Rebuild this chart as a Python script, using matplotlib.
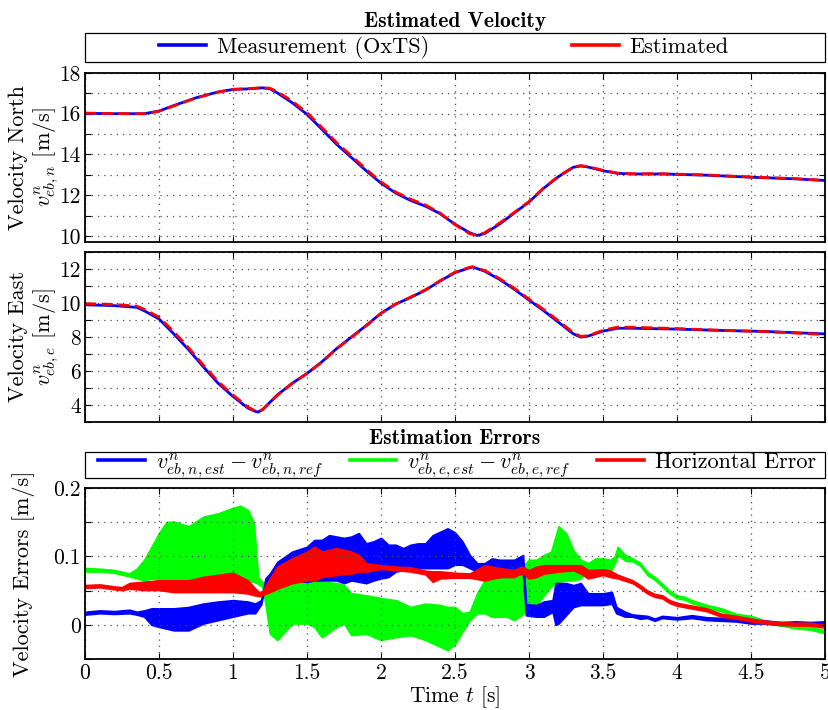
import numpy as np
import matplotlib
matplotlib.use("Agg")
import matplotlib.pyplot as plt
from matplotlib.lines import Line2D
from matplotlib.patches import Rectangle

plt.rcParams.update({
    "font.family": "serif",
    "font.serif": ["cmr10"],
    "mathtext.fontset": "cm",
    "axes.formatter.use_mathtext": True,
    "font.size": 15,
})

# ---- velocity north / east (measured and estimated) ----
t_vel = [0.0, 0.2, 0.4, 0.5, 0.6, 0.75, 0.9, 1.0, 1.1, 1.2, 1.25, 1.3, 1.4, 1.5,
         1.6, 1.7, 1.8, 1.9, 2.0, 2.1, 2.2, 2.3, 2.4, 2.5, 2.6, 2.65, 2.7, 2.8,
         2.9, 3.0, 3.1, 3.2, 3.3, 3.35, 3.4, 3.5, 3.6, 3.7, 3.9, 4.0, 4.2, 4.5,
         4.8, 5.0]
vn_meas = [16.02, 16.0, 16.0, 16.13, 16.4, 16.78, 17.07, 17.19, 17.22, 17.27,
           17.22, 17.02, 16.54, 15.97, 15.24, 14.5, 13.85, 13.2, 12.59, 12.1,
           11.74, 11.46, 11.09, 10.57, 10.15, 10.02, 10.11, 10.57, 11.12, 11.66,
           12.34, 12.91, 13.37, 13.43, 13.38, 13.2, 13.07, 13.04, 13.04, 13.02,
           12.98, 12.88, 12.8, 12.72]
vn_est = [16.03, 16.01, 16.0, 16.12, 16.38, 16.77, 17.06, 17.2, 17.23, 17.28,
          17.25, 17.08, 16.62, 16.05, 15.33, 14.58, 13.93, 13.27, 12.65, 12.15,
          11.8, 11.52, 11.12, 10.55, 10.1, 10.03, 10.15, 10.62, 11.15, 11.68,
          12.36, 12.93, 13.38, 13.45, 13.4, 13.22, 13.08, 13.05, 13.05, 13.03,
          12.99, 12.89, 12.81, 12.72]

t_ve = [0.0, 0.2, 0.35, 0.4, 0.5, 0.6, 0.7, 0.8, 0.9, 1.0, 1.1, 1.15, 1.17, 1.2,
        1.3, 1.4, 1.5, 1.6, 1.7, 1.8, 1.9, 2.0, 2.1, 2.2, 2.3, 2.4, 2.5, 2.6,
        2.62, 2.7, 2.8, 2.9, 3.0, 3.1, 3.2, 3.3, 3.35, 3.4, 3.5, 3.6, 3.7, 4.0,
        4.3, 4.6, 5.0]
ve_meas = [9.88, 9.83, 9.73, 9.53, 9.05, 8.17, 7.24, 6.23, 5.26, 4.49, 3.81,
           3.61, 3.57, 3.71, 4.58, 5.26, 5.84, 6.52, 7.3, 7.98, 8.66, 9.38, 9.92,
           10.31, 10.74, 11.28, 11.77, 12.06, 12.1, 11.86, 11.38, 10.8, 10.16,
           9.53, 8.85, 8.17, 7.98, 8.04, 8.33, 8.5, 8.5, 8.45, 8.37, 8.31, 8.17]
ve_est = [9.95, 9.9, 9.8, 9.62, 9.15, 8.3, 7.35, 6.33, 5.36, 4.57, 3.87, 3.64,
          3.6, 3.72, 4.55, 5.25, 5.83, 6.5, 7.28, 7.96, 8.64, 9.37, 9.93, 10.33,
          10.76, 11.3, 11.8, 12.09, 12.12, 11.9, 11.43, 10.86, 10.22, 9.6, 8.93,
          8.24, 8.02, 8.06, 8.38, 8.57, 8.56, 8.48, 8.38, 8.3, 8.13]

# ---- estimation errors, lower / upper envelope of each trace ----
t_err_n = [0.0, 0.1, 0.2, 0.3, 0.35, 0.4, 0.45, 0.5, 0.6, 0.7, 0.8, 0.9, 1.0,
           1.1, 1.15, 1.19, 1.22, 1.25, 1.3, 1.4, 1.5, 1.55, 1.6, 1.65, 1.7,
           1.75, 1.8, 1.85, 1.9, 1.95, 2.0, 2.05, 2.1, 2.15, 2.2, 2.25, 2.3,
           2.35, 2.4, 2.45, 2.5, 2.55, 2.6, 2.65, 2.7, 2.75, 2.8, 2.9, 2.96,
           2.98, 3.05, 3.1, 3.16, 3.18, 3.2, 3.25, 3.3, 3.35, 3.4, 3.5, 3.56,
           3.59, 3.65, 3.7, 3.75, 3.8, 3.85, 3.9, 4.0, 4.1, 4.2, 4.3, 4.4, 4.5,
           4.6, 4.7, 4.8, 4.9, 5.0]
err_n_lo = [0.015, 0.017, 0.016, 0.017, 0.015, 0.012, 0.0, -0.003, -0.008,
            -0.008, 0.002, 0.007, 0.012, 0.017, 0.017, 0.030, 0.060, 0.065,
            0.065, 0.065, 0.063, 0.065, 0.065, 0.065, 0.065, 0.061, 0.065,
            0.063, 0.061, 0.065, 0.068, 0.070, 0.078, 0.080, 0.080, 0.083,
            0.083, 0.083, 0.083, 0.083, 0.088, 0.088, 0.083, 0.078, 0.068,
            0.070, 0.070, 0.073, 0.075, 0.014, 0.012, 0.012, 0.019, 0.0, 0.002,
            0.014, 0.026, 0.029, 0.029, 0.029, 0.031, 0.017, 0.012, 0.012,
            0.009, 0.010, 0.006, 0.010, 0.008, 0.010, 0.007, 0.006, 0.005,
            0.002, 0.002, 0.0, 0.001, 0.0, 0.001]
err_n_hi = [0.019, 0.021, 0.020, 0.022, 0.019, 0.021, 0.024, 0.024, 0.024,
            0.026, 0.031, 0.034, 0.036, 0.034, 0.031, 0.036, 0.068, 0.075,
            0.092, 0.107, 0.114, 0.124, 0.124, 0.131, 0.129, 0.127, 0.129,
            0.134, 0.119, 0.122, 0.127, 0.117, 0.117, 0.112, 0.117, 0.119,
            0.119, 0.131, 0.136, 0.141, 0.135, 0.122, 0.102, 0.090, 0.090,
            0.097, 0.095, 0.095, 0.102, 0.030, 0.029, 0.034, 0.036, 0.061,
            0.061, 0.061, 0.058, 0.061, 0.046, 0.046, 0.048, 0.026, 0.019,
            0.015, 0.014, 0.013, 0.009, 0.013, 0.011, 0.014, 0.011, 0.010,
            0.009, 0.006, 0.006, 0.004, 0.005, 0.004, 0.005]

t_err_e = [0.0, 0.1, 0.2, 0.3, 0.35, 0.4, 0.45, 0.5, 0.55, 0.6, 0.7, 0.8, 0.9,
           1.0, 1.05, 1.1, 1.14, 1.17, 1.2, 1.22, 1.25, 1.3, 1.4, 1.5, 1.55,
           1.6, 1.7, 1.75, 1.8, 1.9, 2.0, 2.1, 2.2, 2.3, 2.4, 2.45, 2.5, 2.55,
           2.6, 2.65, 2.7, 2.75, 2.8, 2.85, 2.9, 2.95, 3.0, 3.05, 3.1, 3.15,
           3.2, 3.25, 3.3, 3.35, 3.4, 3.45, 3.5, 3.55, 3.58, 3.6, 3.65, 3.7,
           3.75, 3.8, 3.85, 3.9, 3.95, 4.0, 4.05, 4.1, 4.2, 4.3, 4.4, 4.5, 4.6,
           4.7, 4.8, 4.9, 5.0]
err_e_lo = [0.078, 0.078, 0.076, 0.071, 0.068, 0.065, 0.068, 0.066, 0.065,
            0.065, 0.065, 0.066, 0.068, 0.066, 0.065, 0.063, 0.063, 0.060,
            0.055, 0.030, -0.013, -0.022, 0.002, 0.002, -0.003, -0.018, -0.003,
            0.002, -0.015, -0.013, -0.022, -0.018, -0.015, -0.022, -0.032,
            -0.037, -0.028, -0.010, 0.007, 0.017, 0.017, 0.012, 0.012, 0.012,
            0.007, 0.014, 0.024, 0.029, 0.043, 0.056, 0.063, 0.065, 0.065,
            0.068, 0.080, 0.075, 0.075, 0.078, 0.090, 0.102, 0.094, 0.093,
            0.087, 0.073, 0.066, 0.056, 0.046, 0.039, 0.037, 0.032, 0.025,
            0.020, 0.012, 0.009, 0.002, -0.001, -0.005, -0.007, -0.012]
err_e_hi = [0.083, 0.082, 0.080, 0.075, 0.082, 0.095, 0.114, 0.134, 0.150,
            0.151, 0.144, 0.158, 0.163, 0.171, 0.174, 0.168, 0.150, 0.070,
            0.062, 0.062, 0.058, 0.061, 0.063, 0.065, 0.063, 0.063, 0.061,
            0.058, 0.046, 0.043, 0.039, 0.036, 0.026, 0.031, 0.029, 0.026,
            0.026, 0.017, 0.019, 0.046, 0.065, 0.068, 0.075, 0.078, 0.078,
            0.083, 0.095, 0.095, 0.102, 0.107, 0.144, 0.134, 0.109, 0.095,
            0.090, 0.097, 0.097, 0.095, 0.100, 0.114, 0.102, 0.097, 0.091,
            0.077, 0.070, 0.060, 0.050, 0.043, 0.041, 0.036, 0.029, 0.024,
            0.016, 0.013, 0.006, 0.003, -0.001, -0.003, -0.008]

t_err_h = [0.0, 0.1, 0.2, 0.25, 0.3, 0.4, 0.5, 0.6, 0.7, 0.8, 0.9, 1.0, 1.1,
           1.15, 1.18, 1.2, 1.25, 1.3, 1.4, 1.5, 1.55, 1.6, 1.7, 1.8, 1.85, 1.9,
           2.0, 2.1, 2.2, 2.3, 2.35, 2.4, 2.5, 2.6, 2.7, 2.8, 2.9, 2.95, 3.0,
           3.05, 3.1, 3.2, 3.3, 3.35, 3.4, 3.5, 3.55, 3.6, 3.7, 3.75, 3.8, 3.85,
           3.9, 3.95, 4.0, 4.1, 4.2, 4.3, 4.4, 4.5, 4.6, 4.7, 4.8, 4.9, 5.0]
err_h_lo = [0.054, 0.055, 0.052, 0.051, 0.053, 0.051, 0.051, 0.048, 0.048,
            0.048, 0.048, 0.048, 0.046, 0.043, 0.042, 0.044, 0.048, 0.053,
            0.061, 0.065, 0.065, 0.070, 0.073, 0.075, 0.078, 0.078, 0.082,
            0.080, 0.078, 0.074, 0.063, 0.068, 0.069, 0.069, 0.065, 0.070,
            0.070, 0.076, 0.068, 0.070, 0.075, 0.078, 0.080, 0.075, 0.068,
            0.073, 0.070, 0.068, 0.061, 0.054, 0.046, 0.041, 0.039, 0.032,
            0.028, 0.024, 0.020, 0.012, 0.009, 0.005, 0.002, 0.0, -0.001,
            -0.001, -0.004]
err_h_hi = [0.058, 0.059, 0.056, 0.055, 0.061, 0.063, 0.065, 0.065, 0.065,
            0.070, 0.073, 0.076, 0.065, 0.053, 0.047, 0.049, 0.068, 0.085,
            0.097, 0.107, 0.114, 0.107, 0.112, 0.107, 0.102, 0.090, 0.087,
            0.085, 0.084, 0.079, 0.078, 0.078, 0.076, 0.075, 0.087, 0.083,
            0.080, 0.085, 0.080, 0.085, 0.087, 0.087, 0.087, 0.087, 0.080,
            0.081, 0.079, 0.073, 0.065, 0.058, 0.050, 0.045, 0.043, 0.036,
            0.032, 0.028, 0.024, 0.016, 0.013, 0.009, 0.006, 0.004, 0.003,
            0.003, 0.0]

x_ticks = [0, 0.5, 1, 1.5, 2, 2.5, 3, 3.5, 4, 4.5, 5]
x_labels = ['0', '0.5', '1', '1.5', '2', '2.5', '3', '3.5', '4', '4.5', '5']
yn_ticks = [10, 11, 12, 13, 14, 15, 16, 17, 18]
yn_labels = ['10', '', '12', '', '14', '', '16', '', '18']
ye_ticks = [3, 4, 5, 6, 7, 8, 9, 10, 11, 12, 13]
ye_labels = ['', '4', '', '6', '', '8', '', '10', '', '12', '']
yerr_ticks = [-0.05, 0, 0.05, 0.1, 0.15, 0.2]
yerr_labels = ['', '0', '', '0.1', '', '0.2']

AX_L, AX_W = 0.1025, 0.8926


def style_axes(ax, yticks, ylabels, show_x):
    ax.set_xlim(0, 5)
    ax.set_xticks(x_ticks)
    if show_x:
        ax.set_xticklabels(x_labels)
    else:
        ax.set_xticklabels([])
    ax.set_yticks(yticks)
    ax.set_yticklabels(ylabels)
    ax.grid(True, ls=(0, (1, 4)), lw=0.9, color='0.3')
    ax.tick_params(direction='in', top=True, right=True, length=4,
                   width=0.8, labelsize=15.5, pad=3)
    for s in ax.spines.values():
        s.set_linewidth(1.3)


fig = plt.figure(figsize=(8.29, 7.10), dpi=100)
ax1 = fig.add_axes([AX_L, 0.6592, AX_W, 0.238])
ax2 = fig.add_axes([AX_L, 0.406, AX_W, 0.2394])
ax3 = fig.add_axes([AX_L, 0.0718, AX_W, 0.2408])

# North velocity
ax1.plot(t_vel, vn_meas, color='b', lw=2.0)
ax1.plot(t_vel, vn_est, color='r', lw=2.0, dashes=(4, 2))
ax1.set_ylim(9.7, 18)
style_axes(ax1, yn_ticks, yn_labels, False)
ax1.set_ylabel('Velocity North\n$v^n_{eb,n}$ [m/s]', fontsize=16)
ax1.yaxis.set_label_coords(-0.033, 0.5)

# East velocity
ax2.plot(t_ve, ve_meas, color='b', lw=2.0)
ax2.plot(t_ve, ve_est, color='r', lw=2.0, dashes=(4, 2))
ax2.set_ylim(3, 13)
style_axes(ax2, ye_ticks, ye_labels, False)
ax2.set_ylabel('Velocity East\n$v^n_{eb,e}$ [m/s]', fontsize=16)
ax2.yaxis.set_label_coords(-0.033, 0.5)

# errors (green under blue, red on top)
ax3.fill_between(t_err_e, err_e_lo, err_e_hi, color=(0, 1, 0), lw=1.3)
ax3.fill_between(t_err_n, err_n_lo, err_n_hi, color=(0, 0, 1), lw=1.3)
ax3.fill_between(t_err_h, err_h_lo, err_h_hi, color=(1, 0, 0), lw=1.3)
ax3.set_ylim(-0.05, 0.2)
style_axes(ax3, yerr_ticks, yerr_labels, True)
ax3.set_ylabel('Velocity Errors [m/s]', fontsize=16)
ax3.yaxis.set_label_coords(-0.067, 0.5)
ax3.set_xlabel('Time $t$ [s]', fontsize=15.5, labelpad=1)

# titles
xc = AX_L + AX_W / 2
fig.text(xc, 0.970, 'Estimated Velocity', ha='center', va='center',
         family='cmb10', fontsize=15.5)
fig.text(xc, 0.383, 'Estimation Errors', ha='center', va='center',
         family='cmb10', fontsize=15.5)

# legends in boxes spanning the axes width
fig.add_artist(Rectangle((AX_L, 0.9127), AX_W, 0.0408,
                         transform=fig.transFigure, fill=False, lw=0.9, ec='k'))
fig.add_artist(Rectangle((AX_L, 0.3268), AX_W, 0.037,
                         transform=fig.transFigure, fill=False, lw=0.9, ec='k'))

h_top = [Line2D([], [], color='b', lw=2.6), Line2D([], [], color='r', lw=2.6)]
fig.legend(h_top, ['Measurement (OxTS)', 'Estimated'], loc='center',
           bbox_to_anchor=(0.1918, 0.9127, 0.6876, 0.0408),
           bbox_transform=fig.transFigure, mode='expand', ncol=2,
           frameon=False, borderpad=0, borderaxespad=0, handlelength=2.1,
           handletextpad=0.5, fontsize=16)

h_bot = [Line2D([], [], color=(0, 0, 1), lw=2.6),
         Line2D([], [], color=(0, 1, 0), lw=2.6),
         Line2D([], [], color=(1, 0, 0), lw=2.6)]
fig.legend(h_bot, [r'$v^n_{eb,n,est} - v^n_{eb,n,ref}$',
                   r'$v^n_{eb,e,est} - v^n_{eb,e,ref}$',
                   'Horizontal Error'], loc='center',
           bbox_to_anchor=(0.1182, 0.3268, 0.866, 0.037),
           bbox_transform=fig.transFigure, mode='expand', ncol=3,
           frameon=False, borderpad=0, borderaxespad=0, handlelength=2.1,
           handletextpad=0.5, columnspacing=0.6, fontsize=16)

fig.savefig('out.png', dpi=100)
